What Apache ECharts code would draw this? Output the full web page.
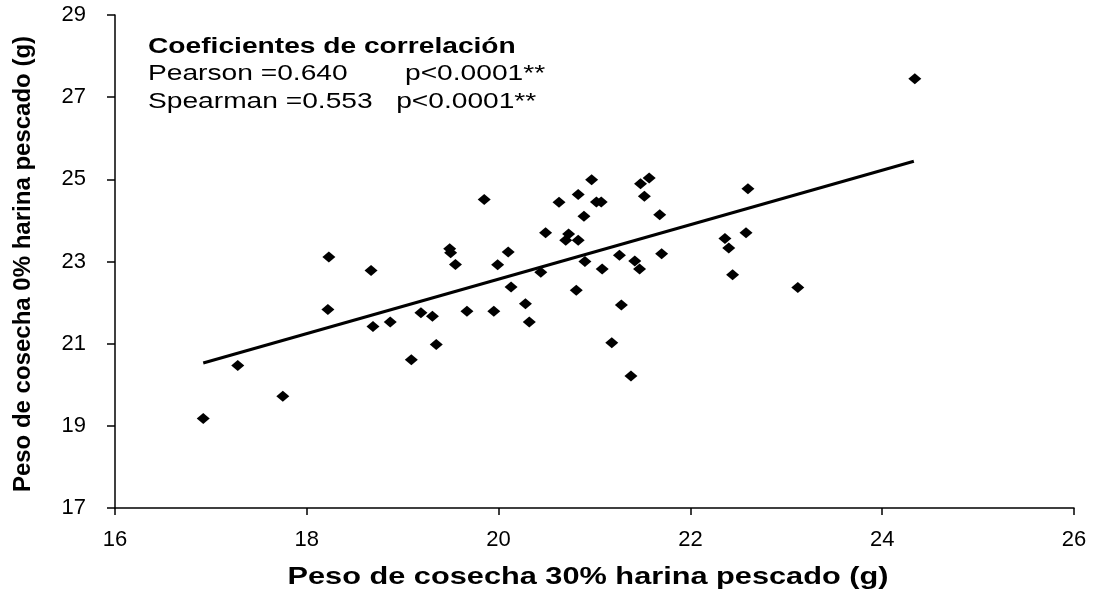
<!DOCTYPE html>
<html>
<head>
<meta charset="utf-8">
<script src="https://cdn.jsdelivr.net/npm/echarts@6/dist/echarts.min.js"></script>
<style>
html,body{margin:0;padding:0;background:#fff;}
#chart{width:1099px;height:592px;}
</style>
</head>
<body>
<div id="chart"></div>
<script>
// Data (x: peso 30% harina pescado, y: peso 0% harina pescado)
const xValues = [16.92,17.28,17.75,18.23,18.22,18.67,18.69,18.87,19.09,19.19,19.31,19.35,19.49,19.50,19.55,19.67,19.85,19.95,19.99,20.10,20.13,20.28,20.32,20.44,20.49,20.63,20.73,20.70,20.83,20.83,20.89,20.81,20.90,20.97,21.02,21.07,21.08,21.18,21.26,21.28,21.38,21.42,21.47,21.48,21.57,21.52,21.68,21.70,22.36,22.40,22.44,22.60,22.58,23.12,24.34];
const yValues = [19.18,20.47,19.72,23.11,21.83,22.78,21.42,21.53,20.61,21.75,21.67,20.98,23.31,23.21,22.93,21.79,24.51,21.79,22.92,23.23,22.38,21.97,21.53,22.74,23.70,24.44,23.67,23.52,24.63,23.52,24.10,22.30,23.00,24.99,24.45,24.45,22.82,21.02,23.15,21.94,20.21,23.01,22.82,24.89,25.03,24.59,24.14,23.19,23.56,23.33,22.68,24.77,23.70,22.37,27.45];
const trendX = [16.92, 24.33];
const trendY = [20.53, 25.44];
const xTicks = [16,18,20,22,24,26];
const yTicks = [17,19,21,23,25,27,29];
const xTitle = 'Peso de cosecha 30% harina pescado (g)';
const yTitle = 'Peso de cosecha 0% harina pescado (g)';
const noteTitle = 'Coeficientes de correlación';
const noteLine1a = 'Pearson =0.640';
const noteLine1b = 'p<0.0001**';
const noteLine2 = 'Spearman =0.553   p<0.0001**';

const chart = echarts.init(document.getElementById('chart'));
const font = 'Liberation Sans, Arial, sans-serif';
const sx = 1.28;
chart.setOption({
  animation: false,
  backgroundColor: '#fff',
  grid: {left:115, right:25, top:15, bottom:84},
  xAxis: {
    type:'value', min:xTicks[0], max:xTicks[xTicks.length-1], interval:2,
    splitLine:{show:false},
    axisLine:{lineStyle:{color:'#000', width:1.5}},
    axisTick:{length:7, lineStyle:{color:'#000', width:1.5}},
    axisLabel:{color:'#000', fontSize:22, fontFamily:font, margin:21}
  },
  yAxis: {
    type:'value', min:yTicks[0], max:yTicks[yTicks.length-1], interval:2,
    splitLine:{show:false},
    axisLine:{lineStyle:{color:'#000', width:1.5}},
    axisTick:{length:8, lineStyle:{color:'#000', width:1.5}},
    axisLabel:{color:'#000', fontSize:22, fontFamily:font, margin:29}
  },
  graphic: [
    {type:'text', x:148, y:47, scaleX:sx, style:{text:noteTitle, fill:'#000', font:'bold 22px '+font, textVerticalAlign:'middle'}},
    {type:'text', x:148, y:74, scaleX:sx, style:{text:noteLine1a, fill:'#000', font:'22px '+font, textVerticalAlign:'middle'}},
    {type:'text', x:405, y:74, scaleX:sx, style:{text:noteLine1b, fill:'#000', font:'22px '+font, textVerticalAlign:'middle'}},
    {type:'text', x:148, y:102, scaleX:sx, style:{text:noteLine2, fill:'#000', font:'22px '+font, textVerticalAlign:'middle'}},
    {type:'text', x:588, y:577, scaleX:sx, style:{text:xTitle, fill:'#000', font:'bold 24px '+font, textAlign:'center', textVerticalAlign:'middle'}},
    {type:'text', x:23, y:264, rotation:Math.PI/2, style:{text:yTitle, fill:'#000', font:'bold 24px '+font, textAlign:'center', textVerticalAlign:'middle'}}
  ],
  series: [
    {type:'line', data: trendX.map((x,i)=>[x,trendY[i]]), symbol:'none',
     lineStyle:{color:'#000', width:3}, z:2},
    {type:'scatter', data: xValues.map((x,i)=>[x,yValues[i]]), symbol:'diamond',
     symbolSize:[13,11], itemStyle:{color:'#000', opacity:1}, z:3}
  ]
});
</script>
</body>
</html>
